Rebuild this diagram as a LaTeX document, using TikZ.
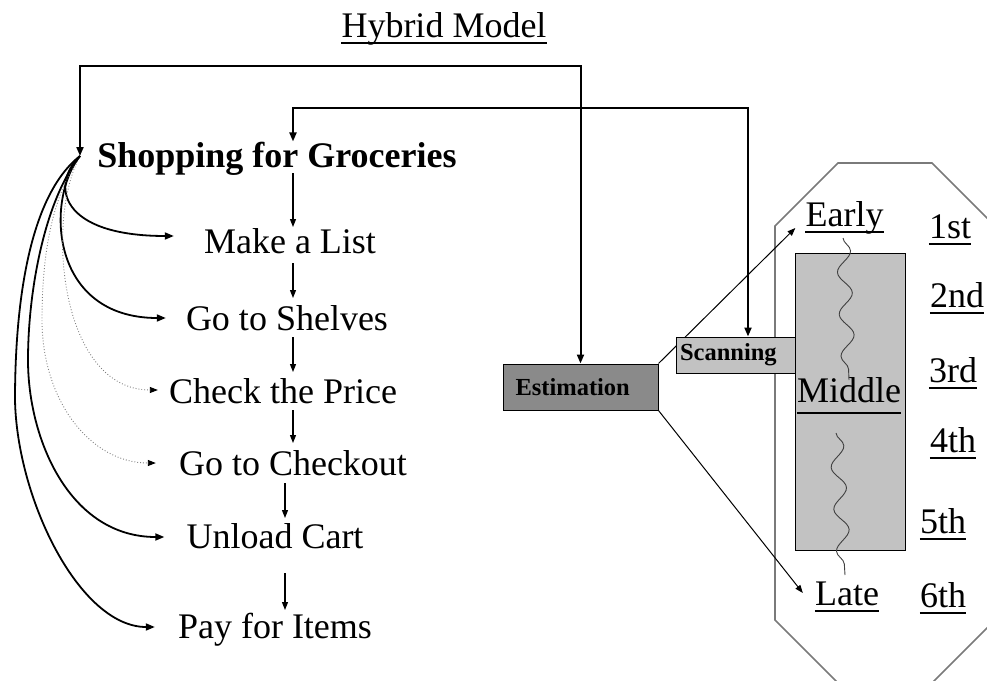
\documentclass[tikz,border=0pt]{standalone}
\usepackage{fontspec}
\setmainfont{Liberation Serif}
\usetikzlibrary{arrows.meta,decorations.pathmorphing,calc}
\definecolor{estgray}{HTML}{8A8A8A}
\definecolor{lightgray2}{HTML}{C2C2C2}
\definecolor{octgray}{HTML}{7A7A7A}
\begin{document}
\begin{tikzpicture}[x=1pt,y=-1pt,
  bigtxt/.style={font=\fontsize{36}{40}\selectfont, inner sep=0pt, anchor=base},
  bigbold/.style={font=\fontsize{36}{40}\selectfont\bfseries, inner sep=0pt, anchor=base},
  boxtxt/.style={font=\fontsize{24.5}{28}\selectfont\bfseries, draw=black, line width=1pt, align=left, inner ysep=0pt},
  estbox/.style={boxtxt, fill=estgray, minimum width=155pt, minimum height=46pt, text width=130pt, inner xsep=12pt},
  scanbox/.style={boxtxt, fill=lightgray2, minimum width=119pt, minimum height=36pt, text width=111pt, inner xsep=4pt},
  midbox/.style={draw=black, line width=1pt, fill=lightgray2, minimum width=110pt, minimum height=297pt, inner sep=0pt},
  octline/.style={draw=octgray, line width=1.6pt},
  varr/.style={line width=1.3pt, -{Triangle[length=8pt,width=6pt]}},
  fanarr/.style={line width=1.8pt, -{Triangle[length=9pt,width=7pt]}},
  fandot/.style={line width=0.9pt, black!50, dotted, -{Triangle[length=8pt,width=6pt,black]}},
  bigloop/.style={line width=2pt, {Triangle[length=9pt,width=7pt]}-{Triangle[length=9pt,width=7pt]}},
  thinarr/.style={line width=1pt, -{Triangle[length=8pt,width=6pt]}},
  wavy/.style={draw=black!75, line width=0.9pt, decorate, decoration={snake, amplitude=7pt, segment length=42pt}},
  ulin/.style={line width=1.3pt}
]
\useasboundingbox (0,0) rectangle (987,680);

% octagon
\begin{scope}
\clip (0,0) rectangle (987,680);
\draw[octline] (838,163) -- (932,163) -- (995,226) -- (995,620) -- (932,683) -- (838,683) -- (775,620) -- (775,226) -- cycle;
\end{scope}

% middle box
\node[midbox] (mid) at (850,401.5) {};

% helper coordinates
\coordinate (s0) at (80,156);
\coordinate (c293) at (293,0);
\coordinate (c285) at (285,0);
\coordinate (y66) at (0,66);
\coordinate (k1) at (748,108);

% texts (left)
\node[bigtxt] (hm) at (444,37) {Hybrid Model};
\node[bigbold] (shop) at (277,167) {Shopping for Groceries};
\node[bigtxt] (mk) at (290,253) {Make a List};
\node[bigtxt] (sh) at (287,330) {Go to Shelves};
\node[bigtxt] (ck) at (283,403) {Check the Price};
\node[bigtxt] (co) at (293,475) {Go to Checkout};
\node[bigtxt] (ul) at (275,548) {Unload Cart};
\node[bigtxt] (pay) at (275,638) {Pay for Items};

% right texts
\node[bigtxt] (early) at (844.5,226) {Early};
\node[bigtxt] (middle) at (849,402) {Middle};
\node[bigtxt] (late) at (847,605) {Late};
\node[bigtxt] (r1) at (950,238) {1st};
\node[bigtxt] (r2) at (957,307) {2nd};
\node[bigtxt] (r3) at (953,382) {3rd};
\node[bigtxt] (r4) at (953,452) {4th};
\node[bigtxt] (r5) at (943,533) {5th};
\node[bigtxt] (r6) at (943,607) {6th};

% underlines
\foreach \n in {hm,early,late,r1,r2,r3,r4,r5,r6}
  \draw[ulin] ([yshift=-6pt]\n.base west) -- ([yshift=-6pt]\n.base east);
\draw[ulin] ([yshift=-11pt]middle.base west) -- ([yshift=-11pt]middle.base east);

% wavy lines
\draw[wavy] (843,238) -- (849,380);
\draw[wavy] (836,433) -- (845,575);

% vertical arrows
\draw[varr] ($(shop.base -| c293)+(0,6)$) -- ($(mk.base -| c293)+(0,-26)$);
\draw[varr] ($(mk.base -| c293)+(0,10)$) -- ($(sh.base -| c293)+(0,-32)$);
\draw[varr] ($(sh.base -| c293)+(0,7)$) -- ($(ck.base -| c293)+(0,-31)$);
\draw[varr] ($(ck.base -| c293)+(0,7)$) -- ($(co.base -| c293)+(0,-32)$);
\draw[varr] ($(co.base -| c285)+(0,8)$) -- ($(ul.base -| c285)+(0,-30)$);
\draw[varr] ($(ul.base -| c285)+(0,25)$) -- ($(pay.base -| c285)+(0,-28)$);

% fan arrows
\draw[fanarr] (s0) .. controls (50,185) and (60,236) .. ([xshift=-30pt,yshift=17pt]mk.base west);
\draw[fanarr] (s0) .. controls (45,200) and (50,318) .. ([xshift=-20pt,yshift=12pt]sh.base west);
\draw[fandot] (s0) .. controls (45,220) and (60,390) .. ([xshift=-11pt,yshift=13pt]ck.base west);
\draw[fandot] (s0) .. controls (50,200) and (42,260) .. (42,320) .. controls (42,400) and (90,463) .. ([xshift=-23pt,yshift=12pt]co.base west);
\draw[fanarr] (s0) .. controls (45,200) and (28,290) .. (28,360) .. controls (28,440) and (70,537) .. ([xshift=-22pt,yshift=11pt]ul.base west);
\draw[fanarr] (s0) .. controls (30,195) and (15,300) .. (15,400) .. controls (17,500) and (80,627) .. ([xshift=-23pt,yshift=11pt]pay.base west);

% estimation box and lines
\node[estbox] (est) at (580.5,387) {Estimation};
\draw[thinarr] (est.north east) -- ([xshift=-10pt,yshift=-2pt]early.base west);
\draw[thinarr] (est.south east) -- ([xshift=-12pt,yshift=12pt]late.base west);

% scanning box
\node[scanbox] (scn) at (735.5,355) {Scanning};

% feedback loops
\draw[bigloop] (est.north) -- (est.north |- y66) -- (s0 |- y66) -- (s0);
\draw[bigloop] (scn.north -| k1) -- (k1) -- (k1 -| c293) -- (shop.north -| c293);
\end{tikzpicture}
\end{document}
